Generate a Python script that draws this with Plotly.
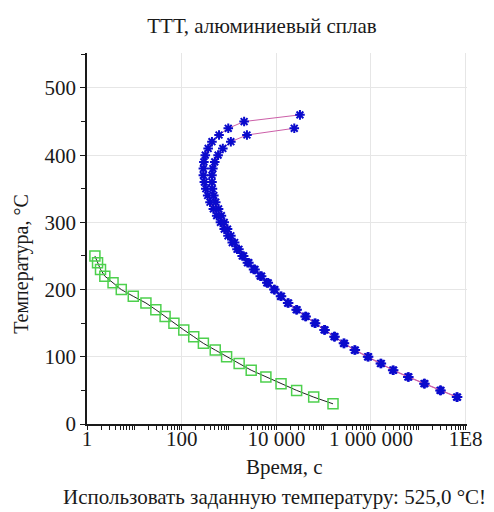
import plotly.graph_objects as go

# Green curve (squares)
green_T = [250, 240, 230, 220, 210, 200, 190, 180, 170, 160, 150, 140, 130, 120,
           110, 100, 90, 80, 70, 60, 50, 40, 30]
green_t = [1.47, 1.67, 1.93, 2.38, 3.55, 5.3, 9.5, 17.6, 28.5, 44.7, 68.7, 111, 180,
           288, 513, 891, 1640, 2950, 6030, 12600, 26900, 61700, 158000]

# Outer C-curve (starts at 460 °C)
curveA_T = [460, 450, 440, 430, 420, 410, 400, 390, 380, 370, 360, 350, 340, 330,
            320, 310, 300, 290, 280, 270, 260, 250, 240, 230, 220, 210, 200, 190,
            180, 170, 160, 150, 140, 130, 120, 110, 100, 90, 80, 70, 60, 50, 40]
curveA_t = [31600, 2090, 966, 617, 437, 363, 316, 295, 288, 288, 302, 324, 355, 398,
            468, 550, 661, 794, 955, 1175, 1480, 1905, 2455, 3311, 4571, 6310, 8913,
            12300, 17380, 26300, 40740, 64570, 102300, 166000, 263000, 446700, 851100,
            1585000, 2884000, 6026000, 13180000, 28840000, 64570000]

# Inner C-curve (starts at 440 °C)
curveB_T = [440, 430, 420, 410, 400, 390, 380, 370, 360, 350, 340, 330, 320, 310,
            300, 290, 280, 270, 260, 250, 240, 230, 220, 210, 200, 190, 180, 170,
            160, 150, 140, 130, 120, 110, 100, 90, 80, 70, 60, 50, 40]
curveB_t = [23990, 2399, 1096, 741, 589, 501, 457, 437, 437, 447, 479, 525, 603, 692,
            794, 933, 1096, 1318, 1622, 2042, 2630, 3548, 4898, 6761, 9333, 12880,
            18200, 27540, 42660, 67610, 107200, 173800, 275400, 467700, 891300,
            1660000, 3020000, 6310000, 13800000, 30200000, 67610000]

x_tickvals = [1, 100, 10000, 1000000, 100000000]
x_ticktext = ["1", "100", "10 000", "1 000 000", "1E8"]
y_tickvals = [0, 100, 200, 300, 400, 500]

SERIF = "Liberation Serif, Times New Roman, serif"
INK = "#1a1a1a"

fig = go.Figure()

for t, T in [(curveA_t, curveA_T), (curveB_t, curveB_T)]:
    fig.add_trace(go.Scatter(
        x=t, y=T, mode="lines+markers",
        line=dict(color="#cc5fa8", width=1),
        marker=dict(symbol="asterisk-open", size=8, color="#0a0acc",
                    line=dict(color="#0a0acc", width=2)),
        showlegend=False, hoverinfo="x+y"))

fig.add_trace(go.Scatter(
    x=green_t, y=green_T, mode="lines+markers",
    line=dict(color="#222222", width=1),
    marker=dict(symbol="square-open", size=10, color="#4dd04d",
                line=dict(color="#4dd04d", width=1.5)),
    showlegend=False, hoverinfo="x+y"))

fig.update_layout(
    width=494, height=512,
    margin=dict(l=87, r=22, t=53, b=88),
    paper_bgcolor="white", plot_bgcolor="white",
    font=dict(family=SERIF, color=INK),
    title=dict(text="ТТТ, алюминиевый сплав", x=262 / 494, xanchor="center",
               xref="container", y=1 - 26 / 512, yanchor="middle",
               font=dict(size=21, family=SERIF, color=INK)),
    xaxis=dict(type="log", range=[0, 8.03],
               tickmode="array", tickvals=x_tickvals, ticktext=x_ticktext,
               ticks="outside", ticklen=4, tickcolor=INK, ticklabelstandoff=-9,
               showline=True, linecolor=INK, linewidth=1.5,
               showgrid=True, gridcolor="#e6e6e6", gridwidth=1,
               zeroline=False,
               minor=dict(ticks="outside", ticklen=4, tickcolor=INK,
                          dtick="D1", showgrid=False),
               tickfont=dict(size=21, family=SERIF, color=INK)),
    yaxis=dict(range=[0, 552],
               tickmode="array", tickvals=y_tickvals,
               ticks="outside", ticklen=5, tickcolor=INK,
               showline=True, linecolor=INK, linewidth=1.5,
               showgrid=True, gridcolor="#e6e6e6", gridwidth=1,
               zeroline=False,
               minor=dict(ticks="outside", ticklen=4, tickcolor=INK,
                          dtick=50, showgrid=False),
               tickfont=dict(size=21, family=SERIF, color=INK)),
    annotations=[
        dict(text="Время, с", xref="paper", yref="paper",
             x=(287 - 87) / 385, y=-(467 - 424) / 371, xanchor="center",
             yanchor="middle", showarrow=False,
             font=dict(size=21, family=SERIF, color=INK)),
        dict(text="Температура, °C", xref="paper", yref="paper",
             x=(20 - 87) / 385, y=(424 - 264) / 371, xanchor="center",
             yanchor="middle", textangle=-90, showarrow=False,
             font=dict(size=20, family=SERIF, color=INK)),
        dict(text="Использовать заданную температуру: 525,0 °C!", xref="paper",
             yref="paper", x=(277 - 87) / 385, y=-(497 - 424) / 371,
             xanchor="center", yanchor="middle", showarrow=False,
             font=dict(size=21, family=SERIF, color=INK)),
    ],
)

fig.write_html("out.html")
